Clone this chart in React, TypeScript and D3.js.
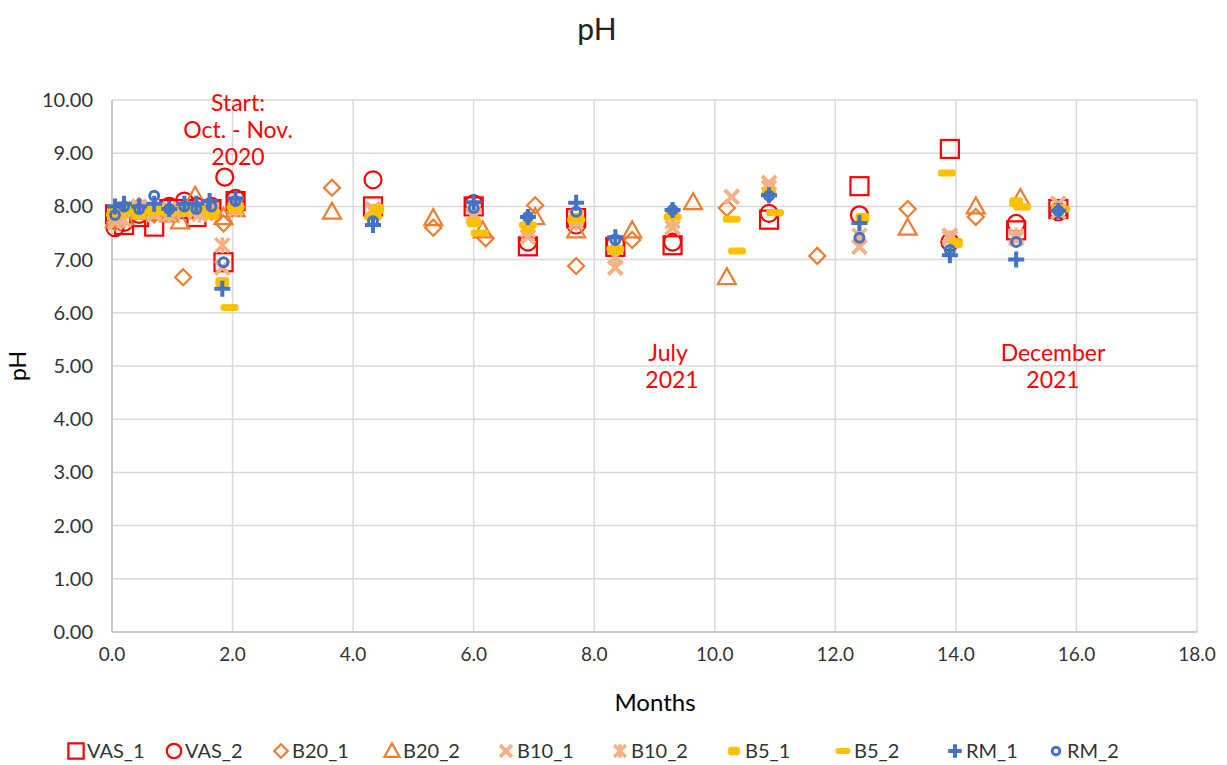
import React from "react";
import * as d3 from "d3";

type P = [number, number];

const VAS_1: P[] = [[0.05,7.85],[0.2,7.65],[0.45,7.8],[0.7,7.62],[0.95,7.95],[1.2,7.95],[1.4,7.8],[1.65,7.95],[1.85,6.95],[2.05,8.1],[4.33,8.0],[6.0,8.0],[6.9,7.25],[7.7,7.78],[8.35,7.24],[9.3,7.27],[10.9,7.75],[12.4,8.38],[13.9,9.08],[15.0,7.55],[15.7,7.95]];
const VAS_2: P[] = [[0.05,7.6],[0.2,7.7],[0.45,7.85],[0.7,7.9],[0.95,8.0],[1.2,8.1],[1.4,8.0],[1.65,8.0],[1.87,8.55],[2.05,8.15],[4.33,8.5],[6.0,8.05],[6.9,7.33],[7.7,7.65],[8.35,7.3],[9.3,7.33],[10.9,7.87],[12.4,7.84],[13.9,7.33],[15.0,7.68],[15.7,7.9]];
const B20_1: P[] = [[0.05,7.7],[0.2,7.9],[0.45,8.0],[0.7,7.85],[0.95,7.9],[1.18,6.67],[1.4,7.95],[1.65,7.9],[1.85,7.68],[2.05,8.0],[3.65,8.35],[5.33,7.6],[6.2,7.4],[7.02,8.02],[7.7,6.88],[8.63,7.37],[10.2,7.97],[11.7,7.07],[13.2,7.95],[14.33,7.8]];
const B20_2: P[] = [[0.05,7.75],[0.2,7.8],[0.45,7.9],[0.7,7.95],[0.95,7.85],[1.13,7.72],[1.38,8.2],[1.65,7.95],[1.85,7.8],[2.05,7.95],[3.65,7.9],[5.33,7.78],[6.15,7.55],[7.02,7.8],[7.7,7.55],[8.63,7.55],[9.64,8.08],[10.2,6.67],[13.2,7.6],[14.33,8.0],[15.07,8.16]];
const B10_1: P[] = [[0.05,7.7],[0.2,7.95],[0.45,7.9],[0.7,7.85],[0.95,7.95],[1.2,7.9],[1.45,7.95],[1.65,7.9],[1.83,6.85],[2.05,8.05],[4.33,7.95],[6.0,7.85],[6.9,7.43],[7.7,7.8],[8.35,6.85],[9.3,7.6],[10.28,8.18],[10.9,8.44],[12.4,7.24],[13.9,7.45],[15.0,7.4],[15.7,8.05]];
const B10_2: P[] = [[0.05,7.8],[0.2,7.75],[0.45,8.0],[0.7,7.9],[0.95,7.85],[1.2,7.95],[1.45,7.85],[1.65,7.95],[1.83,7.27],[2.05,7.95],[4.33,7.9],[6.0,7.8],[6.9,7.55],[7.7,7.7],[8.35,7.05],[9.3,7.72],[10.9,8.35],[12.4,7.45],[13.9,7.4],[15.0,7.45],[15.7,7.9]];
const B5_1: P[] = [[0.05,7.95],[0.2,7.9],[0.45,7.85],[0.7,7.95],[0.95,7.9],[1.2,8.0],[1.45,7.95],[1.65,7.85],[1.83,6.58],[2.05,7.95],[4.4,7.95],[6.0,7.7],[6.9,7.6],[7.7,7.78],[8.35,7.18],[9.3,7.84],[10.9,8.27],[12.45,7.78],[14.0,7.31],[15.0,8.08],[15.7,7.95]];
const B5_2: P[] = [[0.05,7.85],[0.2,8.0],[0.45,7.95],[0.7,7.9],[0.95,7.95],[1.2,7.9],[1.45,8.0],[1.65,7.9],[1.95,6.1],[2.05,7.98],[4.33,7.8],[6.1,7.5],[6.9,7.65],[7.7,7.75],[8.35,7.2],[9.3,7.8],[10.28,7.76],[10.37,7.16],[11.0,7.88],[13.85,8.63],[15.1,7.99],[15.75,7.95]];
const RM_1: P[] = [[0.05,8.0],[0.2,8.05],[0.45,8.0],[0.7,8.05],[0.95,7.95],[1.2,8.05],[1.4,8.05],[1.62,8.1],[1.83,6.45],[2.05,8.15],[4.33,7.65],[6.0,8.08],[6.9,7.8],[7.7,8.07],[8.35,7.42],[9.3,7.93],[10.9,8.21],[12.4,7.69],[13.9,7.08],[15.0,7.0],[15.7,7.92]];
const RM_2: P[] = [[0.05,7.84],[0.2,8.0],[0.45,7.95],[0.7,8.2],[0.95,7.95],[1.2,8.0],[1.4,7.95],[1.65,8.0],[1.85,6.95],[2.05,8.1],[4.33,7.72],[6.0,7.97],[6.9,7.8],[7.7,7.9],[8.35,7.37],[9.3,7.93],[10.9,8.2],[12.4,7.41],[13.9,7.18],[15.0,7.33],[15.7,7.92]];

const seriesNames = ["VAS_1","VAS_2","B20_1","B20_2","B10_1","B10_2","B5_1","B5_2","RM_1","RM_2"];
const seriesData = [VAS_1, VAS_2, B20_1, B20_2, B10_1, B10_2, B5_1, B5_2, RM_1, RM_2];
const xTicks = [0,2,4,6,8,10,12,14,16,18];
const yTicks = [0,1,2,3,4,5,6,7,8,9,10];

const RED = "#FF0000";
const ORANGE = "#ED7D31";
const PEACH = "#F4B183";
const GOLD = "#FFC000";
const BLUE = "#4472C4";

function Marker({ name, x, y, s = 1 }: { name: string; x: number; y: number; s?: number }) {
  switch (name) {
    case "VAS_1":
      return <rect x={x - 9 * s} y={y - 9 * s} width={18 * s} height={18 * s} fill="none" stroke={RED} strokeWidth={2.2} />;
    case "VAS_2":
      return <circle cx={x} cy={y} r={8.5 * s} fill="none" stroke={RED} strokeWidth={2.2} />;
    case "B20_1":
      return <path d={`M${x},${y - 8 * s}L${x + 8 * s},${y}L${x},${y + 8 * s}L${x - 8 * s},${y}Z`} fill="none" stroke={ORANGE} strokeWidth={2.2} />;
    case "B20_2":
      return <path d={`M${x},${y - 9 * s}L${x + 9 * s},${y + 7 * s}L${x - 9 * s},${y + 7 * s}Z`} fill="none" stroke={ORANGE} strokeWidth={2.2} />;
    case "B10_1":
      return <path d={`M${x - 7 * s},${y - 7 * s}L${x + 7 * s},${y + 7 * s}M${x + 7 * s},${y - 7 * s}L${x - 7 * s},${y + 7 * s}`} stroke={PEACH} strokeWidth={4} fill="none" />;
    case "B10_2":
      return <path d={`M${x - 7 * s},${y - 7 * s}L${x + 7 * s},${y + 7 * s}M${x + 7 * s},${y - 7 * s}L${x - 7 * s},${y + 7 * s}M${x},${y - 8 * s}L${x},${y + 8 * s}`} stroke={PEACH} strokeWidth={3.5} fill="none" />;
    case "B5_1":
      return <rect x={x - 7 * s} y={y - 5 * s} width={14 * s} height={10 * s} rx={3} fill={GOLD} />;
    case "B5_2":
      return <rect x={x - 9 * s} y={y - 3.5 * s} width={18 * s} height={7 * s} rx={3} fill={GOLD} />;
    case "RM_1":
      return <path d={`M${x - 8 * s},${y}L${x + 8 * s},${y}M${x},${y - 8 * s}L${x},${y + 8 * s}`} stroke={BLUE} strokeWidth={4} fill="none" />;
    case "RM_2":
      return <circle cx={x} cy={y} r={4.5 * s} fill="none" stroke={BLUE} strokeWidth={3} />;
  }
  return null;
}

export default function App() {
  const W = 1227, H = 765;
  const x = d3.scaleLinear().domain([0, 18]).range([112, 1197]);
  const y = d3.scaleLinear().domain([0, 10]).range([632, 100]);
  const font = "Lato, 'Open Sans', 'Liberation Sans', sans-serif";
  const legendX = [76, 174, 281, 392, 506, 620, 734, 843, 955, 1056];

  return (
    <svg width={W} height={H} style={{ position: "absolute", left: 0, top: 0, background: "#fff" }} fontFamily={font}>
      <rect width={W} height={H} fill="#fff" />
      <text x={597} y={40} textAnchor="middle" fontSize={30} fill="#222">pH</text>
      {yTicks.map((t) => (
        <line key={"gy" + t} x1={x(0)} x2={x(18)} y1={y(t)} y2={y(t)} stroke="#D9D9D9" strokeWidth={1.5} />
      ))}
      {xTicks.map((t) => (
        <line key={"gx" + t} x1={x(t)} x2={x(t)} y1={y(0)} y2={y(10)} stroke="#D9D9D9" strokeWidth={1.5} />
      ))}
      <line x1={x(0)} x2={x(18)} y1={y(0)} y2={y(0)} stroke="#BFBFBF" strokeWidth={1.5} />
      <line x1={x(0)} x2={x(0)} y1={y(0)} y2={y(10)} stroke="#BFBFBF" strokeWidth={1.5} />
      {yTicks.map((t) => (
        <text key={"ty" + t} x={93} y={y(t) + 7} textAnchor="end" fontSize={20} fill="#333">{d3.format(".2f")(t)}</text>
      ))}
      {xTicks.map((t) => (
        <text key={"tx" + t} x={x(t)} y={y(0) + 29} textAnchor="middle" fontSize={19} fill="#333">{d3.format(".1f")(t)}</text>
      ))}
      <text x={655} y={711} textAnchor="middle" fontSize={24} fill="#000">Months</text>
      <text transform={`translate(26,${y(5)}) rotate(-90)`} textAnchor="middle" fontSize={23} fill="#000">pH</text>

      {seriesData.map((data, i) => (
        <g key={seriesNames[i]}>
          {data.map((p, j) => (
            <Marker key={j} name={seriesNames[i]} x={x(p[0])} y={y(p[1])} />
          ))}
        </g>
      ))}

      <g fill={RED} fontSize={23} textAnchor="middle">
        <text x={238} y={111}>Start:</text>
        <text x={238} y={138}>Oct. - Nov.</text>
        <text x={238} y={165}>2020</text>
        <text x={668} y={361}>July</text>
        <text x={672} y={388}>2021</text>
        <text x={1053} y={361}>December</text>
        <text x={1053} y={388}>2021</text>
      </g>

      {seriesNames.map((n, i) => (
        <g key={"lg" + n}>
          <Marker name={n} x={legendX[i]} y={751} s={0.85} />
          <text x={legendX[i] + 11} y={758} fontSize={20} fill="#333">{n}</text>
        </g>
      ))}
    </svg>
  );
}
